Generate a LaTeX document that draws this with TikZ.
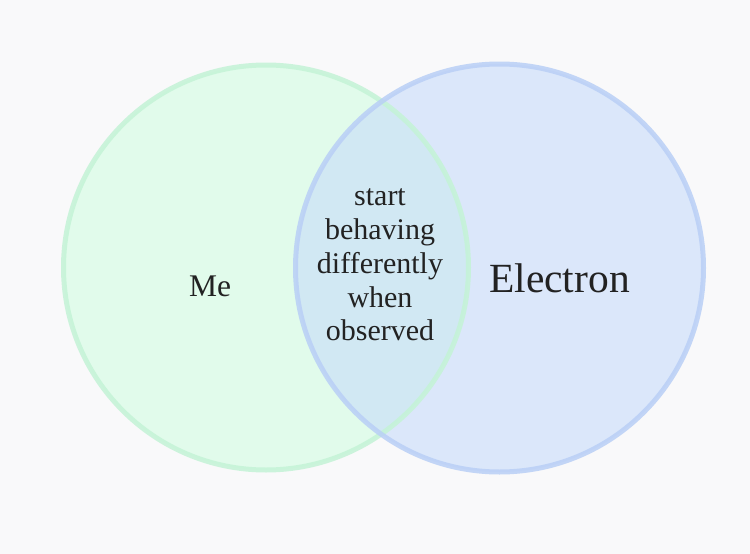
\documentclass[tikz,border=0pt]{standalone}
\usepackage{fontspec}
\setmainfont{Liberation Serif}
\definecolor{bg}{HTML}{F9F9FA}
\definecolor{gfill}{HTML}{E1FBEB}
\definecolor{gline}{HTML}{C4F3D6}
\definecolor{bfill}{HTML}{C4DAFA}
\definecolor{bline}{HTML}{B9CFF6}
\definecolor{ink}{HTML}{222222}
\tikzset{
  lbl/.style={text=ink, align=center, inner sep=0pt},
}
\begin{document}
\begin{tikzpicture}[x=1pt,y=-1pt]
\fill[bg] (0,0) rectangle (750,554);
\useasboundingbox (0,0) rectangle (750,554);
\fill[gfill] (266,267.5) circle (202.5);
\fill[bfill, fill opacity=0.55] (499.5,268) circle (204);
\draw[gline, line width=5pt, opacity=0.85] (266,267.5) circle (202.5);
\draw[bline, line width=5pt, opacity=0.85] (499.5,268) circle (204);
\node[lbl, font=\fontsize{31.5}{34}\selectfont] (me) at (210,286) {Me};
\node[lbl, font=\fontsize{41.5}{44}\selectfont] (el) at (559.5,278) {Electron};
\node[lbl, font=\fontsize{30}{33.8}\selectfont] (mid) at (380,265) {start\\behaving\\differently\\when\\observed};
\end{tikzpicture}
\end{document}
